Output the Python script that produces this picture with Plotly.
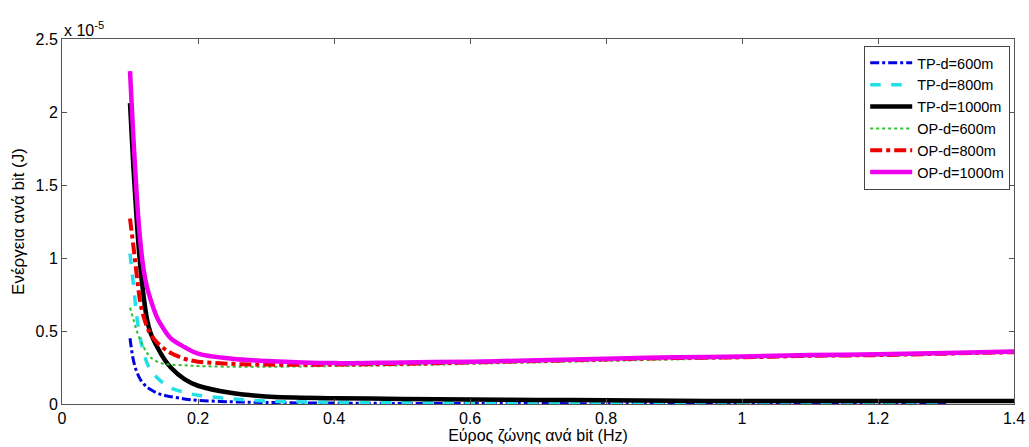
import plotly.graph_objects as go

# Bandwidth per bit (Hz)
x_bw = [0.1, 0.105, 0.11, 0.115, 0.12, 0.125, 0.13, 0.14, 0.15, 0.16, 0.18, 0.2, 0.25,
        0.3, 0.4, 0.5, 0.6, 0.7, 0.8, 0.9, 1.0, 1.1, 1.2, 1.3, 1.4]

# Energy per bit, in units of 1e-5 J
tp_600 = [0.45, 0.30, 0.22, 0.17, 0.14, 0.115, 0.10, 0.075, 0.06, 0.05, 0.035, 0.025, 0.015,
          0.01, 0.006, 0.004, 0.003, 0.003, 0.002, 0.002, 0.002, 0.002, 0.002, 0.002, None]
tp_800 = [1.03, 0.82, 0.60, 0.45, 0.36, 0.28, 0.24, 0.18, 0.14, 0.11, 0.08, 0.06, 0.035,
          0.02, 0.012, 0.01, 0.008, 0.007, 0.006, 0.005, 0.005, 0.004, 0.004, 0.004, None]
tp_1000 = [2.06, 1.62, 1.25, 0.95, 0.74, 0.58, 0.49, 0.39, 0.31, 0.25, 0.17, 0.125, 0.075,
           0.052, 0.04, 0.035, 0.03, 0.028, 0.025, 0.022, 0.02, 0.02, 0.02, 0.02, 0.02]
op_600 = [0.66, 0.58, 0.50, 0.44, 0.39, 0.35, 0.32, 0.29, 0.275, 0.27, 0.265, 0.26, 0.255,
          0.255, 0.26, 0.265, 0.275, 0.285, 0.295, 0.305, 0.315, 0.325, 0.33, 0.34, 0.35]
op_800 = [1.27, 1.08, 0.88, 0.70, 0.60, 0.53, 0.48, 0.42, 0.38, 0.35, 0.31, 0.29, 0.275,
          0.27, 0.27, 0.275, 0.285, 0.295, 0.305, 0.315, 0.32, 0.33, 0.335, 0.345, 0.355]
op_1000 = [2.28, 1.82, 1.42, 1.12, 0.92, 0.80, 0.72, 0.59, 0.51, 0.45, 0.39, 0.345, 0.31,
           0.295, 0.28, 0.285, 0.29, 0.30, 0.31, 0.32, 0.325, 0.335, 0.34, 0.35, 0.36]

x_ticks = [0, 0.2, 0.4, 0.6, 0.8, 1, 1.2, 1.4]
y_ticks = [0, 0.5, 1, 1.5, 2, 2.5]

series = [
    ("TP-d=600m", tp_600, "#0000e0", "dashdot", 3),
    ("TP-d=800m", tp_800, "#20e0e8", "dash", 3.5),
    ("TP-d=1000m", tp_1000, "#000000", "solid", 4.5),
    ("OP-d=600m", op_600, "#30c030", "dot", 2),
    ("OP-d=800m", op_800, "#ee0000", "dashdot", 4),
    ("OP-d=1000m", op_1000, "#ee00ee", "solid", 4.5),
]

fig = go.Figure()
for name, ys, color, dash, w in series:
    fig.add_trace(go.Scatter(x=x_bw, y=ys, name=name, mode="lines",
                             line=dict(color=color, dash=dash, width=w,
                                       shape="spline", smoothing=1.0)))

font_family = "Arial, Liberation Sans, sans-serif"
axis_common = dict(showgrid=False, zeroline=False, showline=True, mirror="ticks",
                   linecolor="#555555", linewidth=1, ticks="inside", ticklen=5,
                   tickcolor="#555555", automargin=False,
                   tickfont=dict(family=font_family, size=16, color="#000"))

fig.update_layout(
    width=1029, height=447,
    margin=dict(l=62, r=15, t=39, b=43),
    paper_bgcolor="white", plot_bgcolor="white",
    font=dict(family=font_family, size=16, color="#000"),
    xaxis=dict(range=[0, 1.4], tickvals=x_ticks, ticktext=[str(v) for v in x_ticks],
               title=dict(text="Εύρος ζώνης ανά bit (Hz)", standoff=0,
                          font=dict(family=font_family, size=16)), **axis_common),
    yaxis=dict(range=[0, 2.5], tickvals=y_ticks, ticktext=[str(v) for v in y_ticks],
               title=dict(text="Ενέργεια ανά bit (J)", standoff=6,
                          font=dict(family=font_family, size=17)), **axis_common),
    legend=dict(x=0.996, y=0.981, xanchor="right", yanchor="top",
                bgcolor="white", bordercolor="#444444", borderwidth=1,
                font=dict(family=font_family, size=14.5), tracegroupgap=0,
                itemwidth=42),
    showlegend=True,
)
fig.add_annotation(text="x 10<sup>-5</sup>", xref="paper", yref="paper", x=0, y=1.0,
                   xanchor="left", yanchor="bottom", showarrow=False,
                   font=dict(family=font_family, size=16, color="#000"), yshift=-2)

fig.write_html("out.html", config={"displayModeBar": False},
               post_script="document.body.style.margin='0px';")
